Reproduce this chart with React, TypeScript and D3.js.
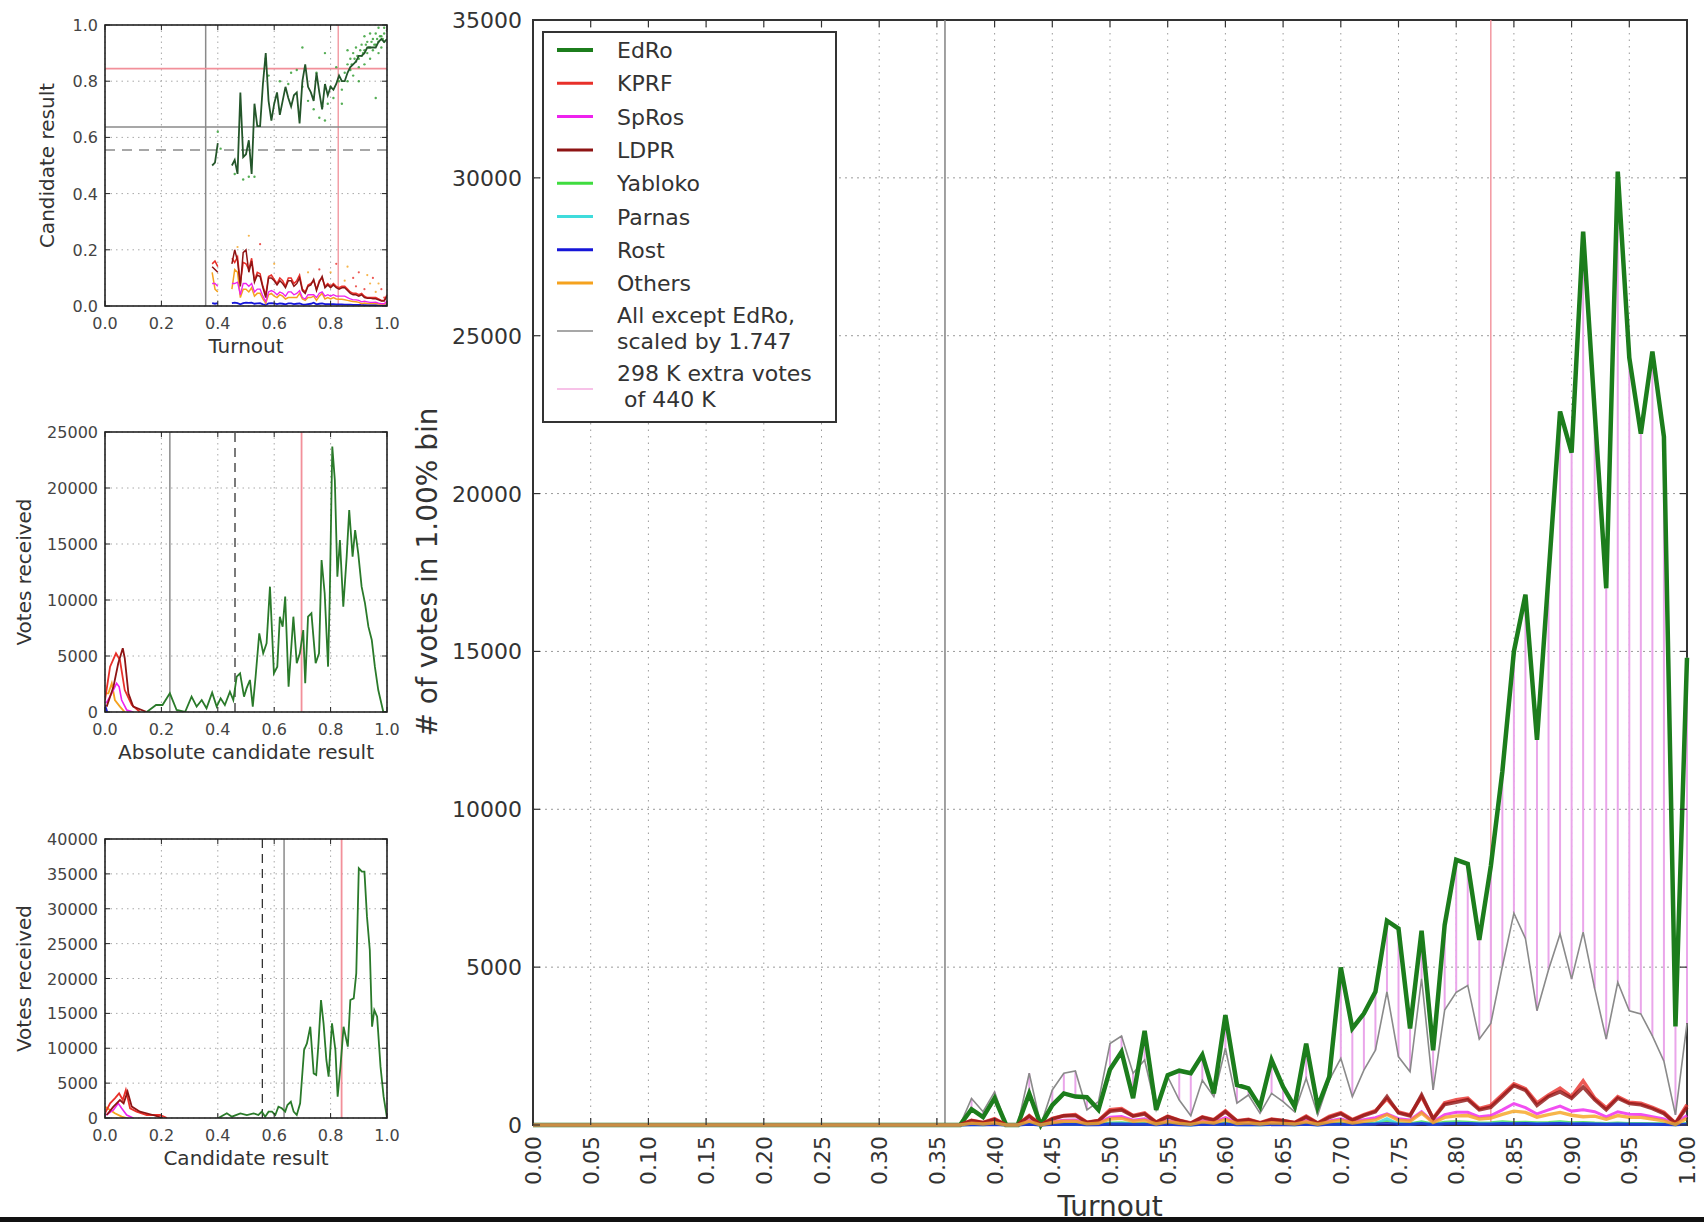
import React from "react";
import * as d3 from "d3";

const W = 1704;
const H = 1222;
const FONT = "'DejaVu Sans', 'Liberation Sans', sans-serif";

// ---------- Main chart data: votes per 1% turnout bin ----------
const TURNOUT_BINS = d3.range(101).map((i) => i / 100);
// bins 0.00 .. 0.36 are empty
const LEADING_ZEROS = [0, 0, 0, 0, 0, 0, 0, 0, 0, 0, 0, 0, 0, 0, 0, 0, 0, 0, 0, 0, 0, 0, 0, 0, 0, 0, 0, 0, 0, 0, 0, 0, 0, 0, 0, 0, 0];
// bins 0.37 .. 1.00
const EDRO_TAIL = [
  0, 500, 250, 850, 0, 0, 1000, 0, 630, 1000,
  900, 880, 480, 1760, 2320, 850, 2980, 480, 1580, 1720,
  1640, 2220, 1000, 3480, 1270, 1160, 580, 2060, 1210, 580,
  2580, 580, 1530, 4990, 3060, 3530, 4220, 6470, 6220, 3060,
  6150, 2370, 6330, 8400, 8270, 5860, 8200, 11200, 15000, 16800,
  12200, 17400, 22600, 21300, 28300, 22600, 17000, 30200, 24300, 21900,
  24500, 21800, 3120, 14800,
];
const ALL_EXCEPT_SCALED_TAIL = [
  0, 840, 420, 1050, 0, 0, 1640, 0, 1110, 1640,
  1710, 480, 740, 2580, 2820, 1640, 2060, 480, 1530, 790,
  290, 1420, 900, 2430, 690, 950, 370, 1000, 740, 420,
  1480, 320, 1420, 2110, 900, 1740, 2370, 4220, 2160, 1690,
  4640, 1110, 3640, 4200, 4420, 2720, 3220, 5020, 6710, 5910,
  3620, 4920, 6050, 4620, 6110, 4320, 2720, 4520, 3620, 3520,
  2820, 2020, 320, 3220,
];
const KPRF_TAIL = [
  0, 150, 80, 200, 0, 0, 300, 0, 210, 300,
  330, 90, 140, 480, 520, 300, 380, 90, 280, 150,
  60, 260, 170, 450, 130, 180, 70, 190, 140, 80,
  280, 60, 270, 390, 170, 330, 450, 830, 410, 320,
  900, 210, 700, 800, 850, 520, 620, 960, 1300, 1150,
  700, 950, 1170, 900, 1400, 850, 540, 900, 720, 690,
  560, 400, 60, 640,
];
const LDPR_TAIL = [
  0, 140, 70, 180, 0, 0, 280, 0, 190, 290,
  300, 80, 130, 440, 480, 280, 350, 80, 260, 140,
  50, 240, 150, 420, 120, 160, 60, 170, 130, 70,
  250, 55, 240, 360, 150, 300, 420, 900, 380, 290,
  950, 190, 650, 720, 800, 480, 560, 900, 1250, 1100,
  620, 900, 1050, 850, 1200, 800, 480, 850, 680, 640,
  520, 360, 50, 560,
];
const SPROS_TAIL = [
  0, 80, 40, 100, 0, 0, 150, 0, 100, 150,
  160, 45, 70, 250, 270, 150, 200, 45, 140, 75,
  25, 130, 85, 230, 65, 90, 35, 95, 70, 40,
  140, 30, 130, 200, 85, 170, 230, 350, 200, 160,
  420, 100, 330, 400, 400, 260, 300, 480, 680, 550,
  350, 480, 600, 440, 480, 420, 260, 420, 340, 330,
  260, 190, 30, 300,
];
const OTHERS_TAIL = [
  0, 60, 30, 70, 0, 0, 120, 0, 80, 120,
  120, 35, 55, 190, 210, 120, 150, 35, 110, 55,
  20, 100, 65, 170, 50, 70, 30, 70, 50, 30,
  100, 25, 100, 150, 65, 120, 160, 330, 150, 120,
  380, 80, 240, 290, 300, 190, 220, 340, 440, 400,
  250, 330, 400, 310, 260, 280, 180, 300, 240, 240,
  190, 130, 20, 210,
];
const YABLOKO_TAIL = [
  0, 25, 10, 30, 0, 0, 50, 0, 30, 45,
  40, 15, 20, 60, 70, 45, 50, 15, 45, 20,
  5, 40, 25, 60, 15, 25, 10, 25, 20, 10,
  40, 8, 40, 55, 25, 40, 60, 110, 50, 40,
  100, 30, 90, 100, 90, 60, 70, 100, 80, 90,
  70, 80, 100, 70, 80, 60, 50, 60, 50, 50,
  40, 40, 10, 50,
];
const PARNAS_TAIL = [
  0, 15, 5, 20, 0, 0, 30, 0, 20, 30,
  25, 10, 12, 40, 45, 30, 30, 10, 30, 12,
  4, 25, 15, 40, 10, 15, 6, 15, 12, 6,
  25, 5, 25, 35, 15, 25, 40, 200, 30, 25,
  60, 20, 50, 60, 55, 40, 45, 60, 50, 55,
  45, 50, 60, 45, 50, 40, 30, 40, 30, 30,
  25, 20, 5, 30,
];
const ROST_TAIL = [
  0, 10, 5, 15, 0, 0, 20, 0, 15, 20,
  20, 8, 10, 30, 35, 20, 25, 8, 20, 10,
  3, 20, 12, 30, 8, 12, 5, 12, 10, 5,
  20, 4, 20, 25, 12, 20, 30, 50, 25, 20,
  45, 15, 40, 45, 45, 30, 35, 45, 40, 45,
  35, 40, 45, 35, 40, 30, 25, 30, 25, 25,
  20, 15, 5, 25,
];

const MAIN_X_TICKS = d3.range(21).map((i) => i * 0.05);
const MAIN_Y_TICKS = [0, 5000, 10000, 15000, 20000, 25000, 30000, 35000];
const TURNOUT_MEAN_LINE = 0.357;
const TURNOUT_MODE_LINE = 0.83;

// ---------- Panel 1: candidate result vs turnout ----------
const SHARE_BINS = d3.range(38, 101).map((i) => i / 100); // 0.38 .. 1.00
const EDRO_SHARE = [
  0.50, 0.51, 0.58, null, null, 0.52, null, 0.50, 0.52, 0.47,
  0.76, 0.53, 0.54, 0.59, 0.47, 0.72, 0.64, 0.64, 0.79, 0.90,
  0.73, 0.66, 0.72, 0.76, 0.68, 0.73, 0.78, 0.74, 0.71, 0.75,
  0.76, 0.65, 0.80, 0.86, 0.78, 0.76, 0.73, 0.83, 0.76, 0.70,
  0.79, 0.75, 0.78, 0.77, 0.79, 0.82, 0.80, 0.80, 0.83, 0.85,
  0.86, 0.87, 0.89, 0.89, 0.90, 0.92, 0.92, 0.92, 0.92, 0.94,
  0.95, 0.94, 0.95,
];
const KPRF_SHARE = [
  0.15, 0.16, 0.14, null, null, 0.155, null, 0.17, 0.155, 0.175,
  0.08, 0.155, 0.15, 0.13, 0.17, 0.09, 0.12, 0.115, 0.07, 0.04,
  0.105, 0.11, 0.095, 0.08, 0.10, 0.09, 0.07, 0.10, 0.10, 0.08,
  0.09, 0.11, 0.06, 0.05, 0.075, 0.08, 0.09, 0.06, 0.09, 0.10,
  0.07, 0.08, 0.07, 0.08, 0.07, 0.065, 0.07, 0.07, 0.06, 0.05,
  0.045, 0.045, 0.04, 0.045, 0.035, 0.03, 0.03, 0.03, 0.03, 0.025,
  0.02, 0.02, 0.04,
];
const LDPR_SHARE = [
  0.14, 0.13, 0.12, null, null, 0.14, null, 0.15, 0.20, 0.16,
  0.07, 0.19, 0.20, 0.12, 0.16, 0.085, 0.11, 0.105, 0.065, 0.03,
  0.10, 0.10, 0.09, 0.075, 0.09, 0.08, 0.065, 0.09, 0.09, 0.07,
  0.08, 0.10, 0.055, 0.045, 0.07, 0.075, 0.095, 0.055, 0.085, 0.105,
  0.065, 0.075, 0.065, 0.075, 0.065, 0.06, 0.065, 0.065, 0.055, 0.045,
  0.04, 0.04, 0.035, 0.04, 0.03, 0.028, 0.028, 0.026, 0.026, 0.022,
  0.018, 0.018, 0.035,
];
const SPROS_SHARE = [
  0.08, 0.08, 0.07, null, null, 0.08, null, 0.08, 0.08, 0.085,
  0.04, 0.08, 0.08, 0.07, 0.08, 0.05, 0.06, 0.06, 0.035, 0.015,
  0.05, 0.055, 0.05, 0.04, 0.05, 0.045, 0.035, 0.05, 0.05, 0.04,
  0.045, 0.055, 0.03, 0.025, 0.04, 0.04, 0.04, 0.03, 0.045, 0.05,
  0.035, 0.04, 0.035, 0.04, 0.035, 0.035, 0.035, 0.035, 0.03, 0.025,
  0.022, 0.022, 0.02, 0.015, 0.017, 0.015, 0.013, 0.013, 0.014, 0.01,
  0.008, 0.008, 0.018,
];
const OTHERS_SHARE = [
  0.12, 0.06, 0.05, null, null, 0.11, null, 0.06, 0.13, 0.12,
  0.03, 0.06, 0.06, 0.05, 0.065, 0.035, 0.045, 0.045, 0.025, 0.01,
  0.04, 0.045, 0.035, 0.03, 0.04, 0.035, 0.025, 0.03, 0.03, 0.03,
  0.03, 0.045, 0.025, 0.02, 0.03, 0.03, 0.035, 0.02, 0.035, 0.045,
  0.025, 0.03, 0.025, 0.03, 0.025, 0.024, 0.024, 0.022, 0.02, 0.018,
  0.016, 0.015, 0.013, 0.008, 0.011, 0.009, 0.009, 0.009, 0.01, 0.007,
  0.006, 0.006, 0.011,
];
const ROST_SHARE = [
  0.01, 0.008, 0.01, null, null, 0.012, null, 0.01, 0.012, 0.01,
  0.006, 0.01, 0.012, 0.011, 0.012, 0.008, 0.009, 0.01, 0.006, 0.004,
  0.009, 0.01, 0.009, 0.007, 0.009, 0.008, 0.006, 0.009, 0.009, 0.007,
  0.008, 0.009, 0.006, 0.005, 0.007, 0.008, 0.012, 0.006, 0.008, 0.009,
  0.007, 0.007, 0.007, 0.007, 0.006, 0.006, 0.006, 0.005, 0.005, 0.005,
  0.004, 0.004, 0.004, 0.004, 0.003, 0.003, 0.003, 0.003, 0.003, 0.002,
  0.002, 0.002, 0.003,
];
const EDRO_STATIONS = [
  [0.46, 0.47], [0.49, 0.45], [0.51, 0.46], [0.53, 0.46], [0.40, 0.62], [0.41, 0.56], [0.57, 0.88],
  [0.58, 0.82], [0.62, 0.80], [0.65, 0.79], [0.66, 0.83], [0.68, 0.84], [0.70, 0.78], [0.72, 0.73],
  [0.74, 0.70], [0.75, 0.83], [0.76, 0.67], [0.77, 0.71], [0.78, 0.66], [0.79, 0.72], [0.80, 0.78],
  [0.81, 0.74], [0.82, 0.85], [0.83, 0.80], [0.84, 0.77], [0.85, 0.83], [0.86, 0.86], [0.86, 0.80],
  [0.87, 0.88], [0.87, 0.84], [0.88, 0.90], [0.88, 0.82], [0.89, 0.87], [0.89, 0.92], [0.90, 0.88],
  [0.90, 0.85], [0.91, 0.93], [0.91, 0.89], [0.92, 0.91], [0.92, 0.86], [0.93, 0.94], [0.93, 0.90],
  [0.94, 0.92], [0.94, 0.88], [0.95, 0.95], [0.95, 0.91], [0.96, 0.93], [0.96, 0.97], [0.97, 0.94],
  [0.97, 0.90], [0.98, 0.96], [0.98, 0.92], [0.99, 0.97], [0.99, 0.94], [1.0, 0.98], [0.96, 0.74],
  [0.90, 0.80], [0.84, 0.72], [0.70, 0.92], [0.78, 0.90], [0.86, 0.91], [0.92, 0.96], [0.99, 0.99],
  [0.97, 0.99], [0.94, 0.97], [0.955, 0.93], [0.965, 0.95], [0.975, 0.96], [0.985, 0.95], [0.945, 0.94],
  [0.935, 0.92], [0.925, 0.93], [0.915, 0.90], [0.905, 0.91], [0.895, 0.89], [0.885, 0.88], [0.875, 0.86],
];
const OTHER_STATIONS = [
  [0.51, 0.25], [0.55, 0.22], [0.47, 0.21], [0.82, 0.15], [0.86, 0.14], [0.90, 0.12], [0.93, 0.11],
  [0.95, 0.10], [0.97, 0.08], [0.88, 0.10], [0.80, 0.12], [0.76, 0.13], [0.72, 0.12], [0.92, 0.06],
  [0.96, 0.05], [0.99, 0.03], [0.85, 0.09], [0.89, 0.07], [0.94, 0.08], [0.98, 0.06], [0.60, 0.15],
];
const P1_H_RESULT = 0.845;
const P1_H_MEAN = 0.637;
const P1_H_DASHED = 0.555;

// ---------- Panel 2: votes vs absolute candidate result ----------
const ABS_EDRO = [
  [0.148, 0], [0.181, 625], [0.204, 625], [0.23, 1670], [0.254, 180], [0.284, 0], [0.307, 1370], [0.325, 480],
  [0.343, 1070], [0.36, 330], [0.38, 1730], [0.396, 480], [0.41, 1220], [0.425, 625], [0.443, 1815], [0.455, 1070],
  [0.467, 3150], [0.479, 3450], [0.493, 1370], [0.502, 2110], [0.514, 2860], [0.524, 480], [0.534, 3150],
  [0.547, 7020], [0.561, 5240], [0.573, 6130], [0.585, 11190], [0.599, 3450], [0.611, 4050], [0.62, 8510],
  [0.63, 7620], [0.639, 10300], [0.651, 2260], [0.668, 8510], [0.68, 4350], [0.691, 5240], [0.703, 7320],
  [0.71, 2560], [0.72, 8510], [0.732, 8810], [0.747, 4350], [0.759, 5240], [0.768, 13570], [0.779, 10600],
  [0.791, 4050], [0.797, 10300], [0.806, 23700], [0.815, 20700], [0.824, 12080], [0.833, 15360], [0.845, 9400],
  [0.857, 13870], [0.866, 18040], [0.878, 13870], [0.887, 16250], [0.898, 14170], [0.91, 11190], [0.922, 9700],
  [0.934, 7620], [0.946, 6430], [0.957, 4050], [0.969, 1960], [0.987, 0], [1.0, 0],
];
const ABS_KPRF = [[0, 1070], [0.018, 4050], [0.039, 5240], [0.053, 4640], [0.07, 1960], [0.095, 625], [0.124, 0]];
const ABS_LDPR = [[0.006, 480], [0.03, 2260], [0.047, 4350], [0.063, 5700], [0.07, 4800], [0.083, 1670], [0.1, 480], [0.148, 0]];
const ABS_SPROS = [[0.004, 800], [0.024, 1670], [0.041, 2560], [0.05, 2260], [0.059, 1070], [0.077, 180], [0.1, 0]];
const ABS_OTHERS = [[0, 1670], [0.012, 1670], [0.024, 2560], [0.035, 1070], [0.053, 480], [0.07, 0]];
const ABS_ROST = [[0, 625], [0.008, 0]];
const P2_V_MEAN = 0.23;
const P2_V_DASHED = 0.461;
const P2_V_RESULT = 0.697;

// ---------- Panel 3: votes vs candidate result ----------
const RES_EDRO = [
  [0.402, 0], [0.432, 670], [0.45, 190], [0.48, 670], [0.503, 430], [0.527, 670], [0.544, 430], [0.556, 910],
  [0.568, 190], [0.58, 910], [0.592, 910], [0.604, 430], [0.615, 1630], [0.627, 1390], [0.639, 910], [0.647, 1860],
  [0.659, 2340], [0.669, 910], [0.68, 430], [0.692, 2100], [0.706, 9750], [0.716, 10700], [0.728, 13090],
  [0.74, 6400], [0.749, 6170], [0.757, 10700], [0.766, 16920], [0.775, 13570], [0.785, 8320], [0.793, 5930],
  [0.805, 13570], [0.817, 9750], [0.825, 3060], [0.835, 7360], [0.846, 13090], [0.861, 10230], [0.87, 16920],
  [0.882, 17160], [0.891, 20740], [0.9, 35800], [0.911, 35320], [0.92, 35320], [0.929, 28870], [0.939, 24090],
  [0.947, 13090], [0.955, 15480], [0.965, 14530], [0.977, 7360], [0.988, 3060], [1.0, 0],
];
const RES_KPRF = [[0, 670], [0.018, 2100], [0.035, 2820], [0.05, 3540], [0.063, 2580], [0.074, 4010], [0.089, 1390], [0.112, 910], [0.148, 430], [0.195, 430], [0.22, 0]];
const RES_LDPR = [[0.006, 430], [0.03, 1630], [0.053, 2580], [0.066, 2100], [0.08, 3780], [0.095, 1630], [0.124, 910], [0.17, 430], [0.205, 0]];
const RES_SPROS = [[0.004, 430], [0.03, 1150], [0.047, 2100], [0.059, 1390], [0.077, 430], [0.1, 0]];
const RES_OTHERS = [[0, 1630], [0.018, 1150], [0.035, 670], [0.059, 190], [0.077, 0]];
const P3_V_DASHED = 0.558;
const P3_V_MEAN = 0.635;
const P3_V_RESULT = 0.839;

const SMALL_X_TICKS = [0, 0.2, 0.4, 0.6, 0.8, 1.0];

const C = {
  edro: "#1c7d1c",
  kprf: "#e8302a",
  spros: "#ee22ee",
  ldpr: "#8e1414",
  yabloko: "#3fdc3f",
  parnas: "#3fdcdc",
  rost: "#1616d8",
  others: "#f5a21e",
  gray: "#8a8a8a",
  extra: "#eaa6ea",
  redLine: "#f2909a",
};

const LEGEND = [
  { label: ["EdRo"], color: C.edro, w: 4 },
  { label: ["KPRF"], color: C.kprf, w: 3 },
  { label: ["SpRos"], color: C.spros, w: 3 },
  { label: ["LDPR"], color: C.ldpr, w: 3 },
  { label: ["Yabloko"], color: C.yabloko, w: 3 },
  { label: ["Parnas"], color: C.parnas, w: 3 },
  { label: ["Rost"], color: C.rost, w: 3 },
  { label: ["Others"], color: C.others, w: 3 },
  { label: ["All except EdRo,", "scaled by 1.747"], color: C.gray, w: 1.5 },
  { label: ["298 K extra votes", " of 440 K"], color: "#f4aee0", w: 1.5 },
];

function full(tail: number[]) {
  return LEADING_ZEROS.concat(tail);
}

type PanelProps = {
  left: number; right: number; top: number; bottom: number;
  yMax: number; yTicks: number[]; yFmt: (v: number) => string;
  xLabel: string; yLabel: string; yLabelX: number;
  children: (x: d3.ScaleLinear<number, number>, y: d3.ScaleLinear<number, number>) => React.ReactNode;
};

function Panel(p: PanelProps) {
  const x = d3.scaleLinear().domain([0, 1]).range([p.left, p.right]);
  const y = d3.scaleLinear().domain([0, p.yMax]).range([p.bottom, p.top]);
  const id = `clip-${p.top}`;
  return (
    <g>
      <defs>
        <clipPath id={id}>
          <rect x={p.left} y={p.top} width={p.right - p.left} height={p.bottom - p.top} />
        </clipPath>
      </defs>
      {SMALL_X_TICKS.map((t) => (
        <line key={"gx" + t} x1={x(t)} x2={x(t)} y1={p.top} y2={p.bottom} stroke="#a8a8a8" strokeWidth={1} strokeDasharray="1.5,4" />
      ))}
      {p.yTicks.map((t) => (
        <line key={"gy" + t} x1={p.left} x2={p.right} y1={y(t)} y2={y(t)} stroke="#a8a8a8" strokeWidth={1} strokeDasharray="1.5,4" />
      ))}
      <g clipPath={`url(#${id})`}>{p.children(x, y)}</g>
      <rect x={p.left} y={p.top} width={p.right - p.left} height={p.bottom - p.top} fill="none" stroke="#222" strokeWidth={1.6} />
      {SMALL_X_TICKS.map((t) => (
        <g key={"tx" + t}>
          <line x1={x(t)} x2={x(t)} y1={p.bottom} y2={p.bottom - 5} stroke="#222" />
          <line x1={x(t)} x2={x(t)} y1={p.top} y2={p.top + 5} stroke="#222" />
          <text x={x(t)} y={p.bottom + 23} textAnchor="middle" fontSize={16} fill="#444" fontFamily={FONT}>
            {d3.format(".1f")(t)}
          </text>
        </g>
      ))}
      {p.yTicks.map((t) => (
        <g key={"ty" + t}>
          <line x1={p.left} x2={p.left + 5} y1={y(t)} y2={y(t)} stroke="#222" />
          <line x1={p.right} x2={p.right - 5} y1={y(t)} y2={y(t)} stroke="#222" />
          <text x={p.left - 7} y={y(t) + 6} textAnchor="end" fontSize={16} fill="#444" fontFamily={FONT}>
            {p.yFmt(t)}
          </text>
        </g>
      ))}
      <text x={(p.left + p.right) / 2} y={p.bottom + 47} textAnchor="middle" fontSize={20} fill="#333" fontFamily={FONT}>
        {p.xLabel}
      </text>
      <text
        transform={`translate(${p.yLabelX},${(p.top + p.bottom) / 2}) rotate(-90)`}
        textAnchor="middle"
        dominantBaseline="middle"
        fontSize={20}
        fill="#333"
        fontFamily={FONT}
      >
        {p.yLabel}
      </text>
    </g>
  );
}

export default function App() {
  const mx = d3.scaleLinear().domain([0, 1]).range([533, 1687]);
  const my = d3.scaleLinear().domain([0, 35000]).range([1125, 20]);
  const mainLine = d3
    .line<number>()
    .x((_, i) => mx(TURNOUT_BINS[i]))
    .y((v) => my(v));

  const edro = full(EDRO_TAIL);
  const gray = full(ALL_EXCEPT_SCALED_TAIL);
  const parties = [
    { v: full(KPRF_TAIL), c: C.kprf, w: 3.6 },
    { v: full(SPROS_TAIL), c: C.spros, w: 3 },
    { v: full(LDPR_TAIL), c: C.ldpr, w: 3.6 },
    { v: full(YABLOKO_TAIL), c: C.yabloko, w: 3 },
    { v: full(PARNAS_TAIL), c: C.parnas, w: 3 },
    { v: full(ROST_TAIL), c: C.rost, w: 3 },
    { v: full(OTHERS_TAIL), c: C.others, w: 3.4 },
  ];

  const pairLine = (x: d3.ScaleLinear<number, number>, y: d3.ScaleLinear<number, number>) =>
    d3.line<number[]>().x((d) => x(d[0])).y((d) => y(d[1]));

  const shareLine = (x: d3.ScaleLinear<number, number>, y: d3.ScaleLinear<number, number>) =>
    d3
      .line<number | null>()
      .defined((v) => v !== null)
      .x((_, i) => x(SHARE_BINS[i]))
      .y((v) => y(v as number));

  return (
    <div style={{ position: "absolute", left: 0, top: 0 }}>
      <svg width={W} height={H} style={{ display: "block", background: "#fff" }}>
        <rect x={0} y={0} width={W} height={H} fill="#fff" />

        {/* Panel 1 */}
        <Panel left={105} right={387} top={25} bottom={306} yMax={1} yTicks={[0, 0.2, 0.4, 0.6, 0.8, 1.0]}
          yFmt={d3.format(".1f")} xLabel="Turnout" yLabel="Candidate result" yLabelX={48}>
          {(x, y) => (
            <g>
              <line x1={x(TURNOUT_MEAN_LINE)} x2={x(TURNOUT_MEAN_LINE)} y1={y(0)} y2={y(1)} stroke={C.gray} strokeWidth={1.5} />
              <line x1={x(0.827)} x2={x(0.827)} y1={y(0)} y2={y(1)} stroke={C.redLine} strokeWidth={1.3} />
              <line x1={x(0)} x2={x(1)} y1={y(P1_H_RESULT)} y2={y(P1_H_RESULT)} stroke={C.redLine} strokeWidth={1.8} />
              <line x1={x(0)} x2={x(1)} y1={y(P1_H_MEAN)} y2={y(P1_H_MEAN)} stroke={C.gray} strokeWidth={1.5} />
              <line x1={x(0)} x2={x(1)} y1={y(P1_H_DASHED)} y2={y(P1_H_DASHED)} stroke={C.gray} strokeWidth={1.5} strokeDasharray="10,7" />
              {EDRO_STATIONS.map((d, i) => (
                <circle key={"s" + i} cx={x(d[0])} cy={y(d[1])} r={1.2} fill="#2c9a2c" opacity={0.8} />
              ))}
              {OTHER_STATIONS.map((d, i) => (
                <circle key={"o" + i} cx={x(d[0])} cy={y(d[1])} r={1.1} fill={i % 2 ? C.kprf : C.others} opacity={0.8} />
              ))}
              <path d={shareLine(x, y)(ROST_SHARE) || ""} fill="none" stroke={C.rost} strokeWidth={1.8} />
              <path d={shareLine(x, y)(OTHERS_SHARE) || ""} fill="none" stroke={C.others} strokeWidth={1.5} />
              <path d={shareLine(x, y)(SPROS_SHARE) || ""} fill="none" stroke={C.spros} strokeWidth={1.3} />
              <path d={shareLine(x, y)(KPRF_SHARE) || ""} fill="none" stroke={C.kprf} strokeWidth={1.5} />
              <path d={shareLine(x, y)(LDPR_SHARE) || ""} fill="none" stroke={C.ldpr} strokeWidth={1.5} />
              <path d={shareLine(x, y)(EDRO_SHARE) || ""} fill="none" stroke="#24562a" strokeWidth={1.8} />
            </g>
          )}
        </Panel>

        {/* Panel 2 */}
        <Panel left={105} right={387} top={432} bottom={712} yMax={25000} yTicks={[0, 5000, 10000, 15000, 20000, 25000]}
          yFmt={d3.format("d")} xLabel="Absolute candidate result" yLabel="Votes received" yLabelX={25}>
          {(x, y) => (
            <g>
              <line x1={x(P2_V_MEAN)} x2={x(P2_V_MEAN)} y1={y(0)} y2={y(25000)} stroke={C.gray} strokeWidth={1.5} />
              <line x1={x(P2_V_DASHED)} x2={x(P2_V_DASHED)} y1={y(0)} y2={y(25000)} stroke="#333" strokeWidth={1.3} strokeDasharray="9,6" />
              <line x1={x(P2_V_RESULT)} x2={x(P2_V_RESULT)} y1={y(0)} y2={y(25000)} stroke={C.redLine} strokeWidth={1.8} />
              <path d={pairLine(x, y)(ABS_ROST) || ""} fill="none" stroke={C.rost} strokeWidth={1.8} />
              <path d={pairLine(x, y)(ABS_OTHERS) || ""} fill="none" stroke={C.others} strokeWidth={1.8} />
              <path d={pairLine(x, y)(ABS_SPROS) || ""} fill="none" stroke={C.spros} strokeWidth={1.6} />
              <path d={pairLine(x, y)(ABS_KPRF) || ""} fill="none" stroke={C.kprf} strokeWidth={1.8} />
              <path d={pairLine(x, y)(ABS_LDPR) || ""} fill="none" stroke={C.ldpr} strokeWidth={1.8} />
              <path d={pairLine(x, y)(ABS_EDRO) || ""} fill="none" stroke="#2a7a2a" strokeWidth={1.8} />
            </g>
          )}
        </Panel>

        {/* Panel 3 */}
        <Panel left={105} right={387} top={839} bottom={1118} yMax={40000}
          yTicks={[0, 5000, 10000, 15000, 20000, 25000, 30000, 35000, 40000]}
          yFmt={d3.format("d")} xLabel="Candidate result" yLabel="Votes received" yLabelX={25}>
          {(x, y) => (
            <g>
              <line x1={x(P3_V_DASHED)} x2={x(P3_V_DASHED)} y1={y(0)} y2={y(40000)} stroke="#333" strokeWidth={1.3} strokeDasharray="9,6" />
              <line x1={x(P3_V_MEAN)} x2={x(P3_V_MEAN)} y1={y(0)} y2={y(40000)} stroke={C.gray} strokeWidth={1.5} />
              <line x1={x(P3_V_RESULT)} x2={x(P3_V_RESULT)} y1={y(0)} y2={y(40000)} stroke={C.redLine} strokeWidth={1.8} />
              <path d={pairLine(x, y)(RES_OTHERS) || ""} fill="none" stroke={C.others} strokeWidth={1.8} />
              <path d={pairLine(x, y)(RES_SPROS) || ""} fill="none" stroke={C.spros} strokeWidth={1.6} />
              <path d={pairLine(x, y)(RES_KPRF) || ""} fill="none" stroke={C.kprf} strokeWidth={1.8} />
              <path d={pairLine(x, y)(RES_LDPR) || ""} fill="none" stroke={C.ldpr} strokeWidth={1.8} />
              <path d={pairLine(x, y)(RES_EDRO) || ""} fill="none" stroke="#2a7a2a" strokeWidth={1.8} />
            </g>
          )}
        </Panel>

        {/* Main chart grid */}
        {MAIN_X_TICKS.map((t) => (
          <line key={"mgx" + t} x1={mx(t)} x2={mx(t)} y1={my(35000)} y2={my(0)} stroke="#9a9a9a" strokeWidth={1} strokeDasharray="1.5,5" />
        ))}
        {MAIN_Y_TICKS.map((t) => (
          <line key={"mgy" + t} x1={mx(0)} x2={mx(1)} y1={my(t)} y2={my(t)} stroke="#9a9a9a" strokeWidth={1} strokeDasharray="2,4" />
        ))}

        {/* Main frame (under data, like matplotlib lines at zero covering the spine) */}
        <rect x={mx(0)} y={my(35000)} width={mx(1) - mx(0)} height={my(0) - my(35000)} fill="none" stroke="#333" strokeWidth={2} />

        <line x1={mx(TURNOUT_MEAN_LINE)} x2={mx(TURNOUT_MEAN_LINE)} y1={my(0)} y2={my(35000)} stroke={C.gray} strokeWidth={1.6} />
        <line x1={mx(TURNOUT_MODE_LINE)} x2={mx(TURNOUT_MODE_LINE)} y1={my(0)} y2={my(35000)} stroke={C.redLine} strokeWidth={1.4} />

        {/* extra votes */}
        {TURNOUT_BINS.map((t, i) =>
          edro[i] > 0 && gray[i] > 0 ? (
            <line key={"ev" + i} x1={mx(t)} x2={mx(t)} y1={my(gray[i])} y2={my(edro[i])} stroke={C.extra} strokeWidth={2} />
          ) : null
        )}
        <path d={mainLine(gray) || ""} fill="none" stroke={C.gray} strokeWidth={1.6} />
        <path d={mainLine(edro) || ""} fill="none" stroke={C.edro} strokeWidth={4.5} strokeLinejoin="miter" />
        {parties.map((p, k) => (
          <path key={"p" + k} d={mainLine(p.v) || ""} fill="none" stroke={p.c} strokeWidth={p.w} opacity={0.8} />
        ))}

        {/* Main ticks */}
        {MAIN_X_TICKS.map((t) => (
          <g key={"mtx" + t}>
            <line x1={mx(t)} x2={mx(t)} y1={my(0)} y2={my(0) - 7} stroke="#333" strokeWidth={1.2} />
            <line x1={mx(t)} x2={mx(t)} y1={my(35000)} y2={my(35000) + 7} stroke="#333" strokeWidth={1.2} />
            <text
              transform={`translate(${mx(t) + 8},${1136}) rotate(-90)`}
              textAnchor="end"
              fontSize={22}
              fill="#333"
              fontFamily={FONT}
            >
              {d3.format(".2f")(t)}
            </text>
          </g>
        ))}
        {MAIN_Y_TICKS.map((t) => (
          <g key={"mty" + t}>
            <line x1={mx(0)} x2={mx(0) + 7} y1={my(t)} y2={my(t)} stroke="#333" strokeWidth={1.2} />
            <line x1={mx(1)} x2={mx(1) - 7} y1={my(t)} y2={my(t)} stroke="#333" strokeWidth={1.2} />
            <text x={522} y={my(t) + 8} textAnchor="end" fontSize={22} fill="#333" fontFamily={FONT}>
              {d3.format("d")(t)}
            </text>
          </g>
        ))}
        <text x={(mx(0) + mx(1)) / 2} y={1216} textAnchor="middle" fontSize={28} fill="#333" fontFamily={FONT}>
          Turnout
        </text>
        <text transform={`translate(${429},${572}) rotate(-90)`} textAnchor="middle" dominantBaseline="middle"
          fontSize={28} fill="#333" fontFamily={FONT}>
          # of votes in 1.00% bin
        </text>

        {/* Legend */}
        <rect x={543} y={32} width={293} height={390} fill="#fff" stroke="#333" strokeWidth={2} />
        {LEGEND.map((item, i) => {
          const yc = i < 8 ? 50 + i * 33.3 : i === 8 ? 331 : 389;
          return (
            <g key={"lg" + i}>
              <line x1={557} x2={593} y1={yc} y2={yc} stroke={item.color} strokeWidth={item.w} />
              {item.label.length === 1 ? (
                <text x={617} y={yc + 8} fontSize={22} fill="#333" fontFamily={FONT}>
                  {item.label[0]}
                </text>
              ) : (
                <text fontSize={22} fill="#333" fontFamily={FONT} style={{ whiteSpace: "pre" }}>
                  <tspan x={617} y={yc - 8}>{item.label[0]}</tspan>
                  <tspan x={617} y={yc + 18}>{item.label[1]}</tspan>
                </text>
              )}
            </g>
          );
        })}

        <rect x={0} y={1217} width={W} height={5} fill="#111" />
      </svg>
    </div>
  );
}
